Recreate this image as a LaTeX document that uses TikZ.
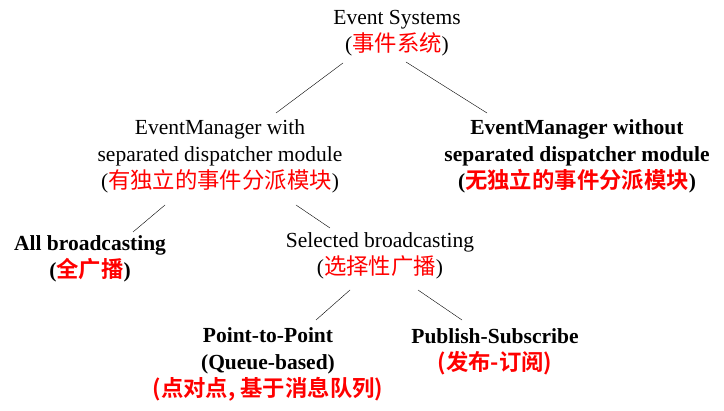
\documentclass[tikz,border=0pt]{standalone}
\usepackage{fontspec}
\setmainfont{Liberation Serif}
\newfontfamily\cjk{Noto Sans CJK SC}[Scale=1.04,BoldFont={Noto Sans CJK SC Bold}]
\usetikzlibrary{positioning}
\definecolor{zhred}{RGB}{255,0,0}
\newcommand{\zh}[1]{{\cjk\color{zhred}#1}}

\begin{document}
\begin{tikzpicture}[x=1pt,y=-1pt]
\tikzstyle{term}=[align=center,inner sep=0pt,
font=\fontsize{21.5}{27}\selectfont]
\tikzstyle{termb}=[term,font=\fontsize{21.5}{27}\selectfont\bfseries]
\useasboundingbox (0,0) rectangle (724,411);

\node[term] at (397,33) (root) {Event Systems\\(\zh{事件系统})};
\node[term] at (220,156) (with) {EventManager with\\separated dispatcher module\\(\zh{有独立的事件分派模块})};
\node[termb] at (577,156) (without) {EventManager without\\separated dispatcher module\\(\zh{无独立的事件分派模块})};
\node[termb] at (90,259) (all) {All broadcasting\\(\zh{全广播})};
\node[term] at (380,256) (sel) {Selected broadcasting\\(\zh{选择性广播})};
\node[termb] at (268,364) (p2p) {Point-to-Point\\(Queue-based)\\\zh{(点对点, 基于消息队列)}};
\node[termb] at (495,352) (pubsub) {Publish-Subscribe\\\zh{(发布-订阅)}};

% tree lines
\draw ([shift={(-54,30)}]root.center) -- ([shift={(56,-43)}]with.center);
\draw ([shift={(9,29)}]root.center) -- ([shift={(-90,-43)}]without.center);
\draw ([shift={(-55,49)}]with.center) -- ([shift={(43,-27)}]all.center);
\draw ([shift={(76,49)}]with.center) -- ([shift={(-50,-28)}]sel.center);
\draw ([shift={(-30,34)}]sel.center) -- ([shift={(48,-44)}]p2p.center);
\draw ([shift={(38,34)}]sel.center) -- ([shift={(-33,-32)}]pubsub.center);

\end{tikzpicture}
\end{document}
